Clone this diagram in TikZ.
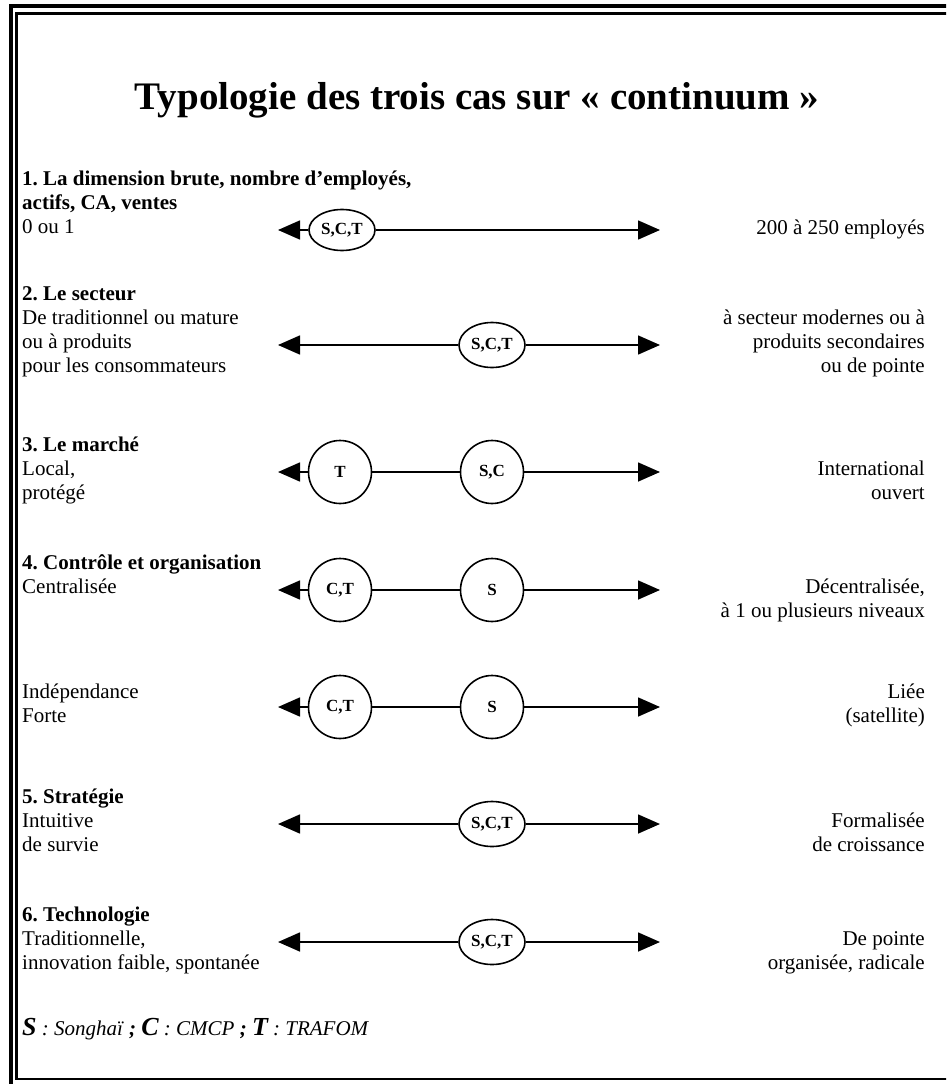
\documentclass[tikz,border=0pt]{standalone}
\usepackage{fontspec}
\setmainfont{Liberation Serif}
\usetikzlibrary{arrows.meta,shapes.geometric}
\frenchspacing

\newcommand{\lettre}[1]{{\fontsize{26}{26}\selectfont\bfseries\itshape #1}}

\tikzset{
  texte/.style={font=\fontsize{21}{24}\selectfont, inner sep=0pt,
    execute at begin node=\strut, execute at end node=\strut},
  texteG/.style={texte, align=left, anchor=west},
  texteD/.style={texte, align=right, anchor=east},
  cas/.style={draw, ellipse, line width=1.6pt, fill=white, inner sep=0pt,
    minimum width=66pt, minimum height=45pt, font=\fontsize{17}{19}\selectfont\bfseries},
  rond/.style={cas, circle, minimum size=63pt},
  fleche/.style={line width=1.6pt, -{Triangle[length=22pt,width=19pt]}},
  trait/.style={line width=1.6pt}
}

\begin{document}
\begin{tikzpicture}[x=1pt,y=-1pt]
  \useasboundingbox (0,0) rectangle (946,1084);

  % Cadre double
  \begin{scope}
    \clip (0,0) rectangle (946,1084);
    \draw[line width=3.5pt] (11,6) rectangle (960,1090);
    \draw[line width=2.5pt] (16.5,13.5) rectangle (952,1079);
  \end{scope}

  % Titre
  \node[font=\fontsize{39}{42}\selectfont\bfseries] (titre) at (477,100)
    {Typologie des trois cas sur « continuum »};

  % 1. Dimension brute
  \node[texteG] (g1) at (22,206) {\textbf{1. La dimension brute, nombre d’employés,}\\
    \textbf{actifs, CA, ventes}\\0 ou 1};
  \node[texteD] (d1) at (925,230) {200 à 250 employés};
  \node[cas, minimum height=41pt] (cas1) at (342,230) {S,C,T};
  \coordinate (a1) at (278,230);
  \coordinate (b1) at (660,230);
  \draw[fleche] (cas1) -- (a1);
  \draw[fleche] (cas1) -- (b1);

  % 2. Secteur
  \node[texteG] (g2) at (22,333) {\textbf{2. Le secteur}\\De traditionnel ou mature\\
    ou à produits\\pour les consommateurs};
  \node[texteD] (d2) at (925,345) {à secteur modernes ou à\\produits secondaires\\ou de pointe};
  \node[cas] (cas2) at (492,345) {S,C,T};
  \coordinate (a2) at (278,345);
  \coordinate (b2) at (660,345);
  \draw[fleche] (cas2) -- (a2);
  \draw[fleche] (cas2) -- (b2);

  % 3. Marché
  \node[texteG] (g3) at (22,472) {\textbf{3. Le marché}\\Local,\\protégé};
  \node[texteD] (d3) at (925,484) {International\\ouvert};
  \node[rond] (cas3a) at (340,472) {T};
  \node[rond] (cas3b) at (492,472) {S,C};
  \coordinate (a3) at (278,472);
  \coordinate (b3) at (660,472);
  \draw[fleche] (cas3a) -- (a3);
  \draw[trait] (cas3a) -- (cas3b);
  \draw[fleche] (cas3b) -- (b3);

  % 4. Contrôle et organisation
  \node[texteG] (g4) at (22,578) {\textbf{4. Contrôle et organisation}\\Centralisée};
  \node[texteD] (d4) at (925,602) {Décentralisée,\\à 1 ou plusieurs niveaux};
  \node[rond] (cas4a) at (340,590) {C,T};
  \node[rond] (cas4b) at (492,590) {S};
  \coordinate (a4) at (278,590);
  \coordinate (b4) at (660,590);
  \draw[fleche] (cas4a) -- (a4);
  \draw[trait] (cas4a) -- (cas4b);
  \draw[fleche] (cas4b) -- (b4);

  % Indépendance
  \node[texteG] (g4i) at (22,707) {Indépendance\\Forte};
  \node[texteD] (d4i) at (925,707) {Liée\\(satellite)};
  \node[rond] (cas4c) at (340,707) {C,T};
  \node[rond] (cas4d) at (492,707) {S};
  \coordinate (a4i) at (278,707);
  \coordinate (b4i) at (660,707);
  \draw[fleche] (cas4c) -- (a4i);
  \draw[trait] (cas4c) -- (cas4d);
  \draw[fleche] (cas4d) -- (b4i);

  % 5. Stratégie
  \node[texteG] (g5) at (22,824) {\textbf{5. Stratégie}\\Intuitive\\de survie};
  \node[texteD] (d5) at (925,836) {Formalisée\\de croissance};
  \node[cas] (cas5) at (492,824) {S,C,T};
  \coordinate (a5) at (278,824);
  \coordinate (b5) at (660,824);
  \draw[fleche] (cas5) -- (a5);
  \draw[fleche] (cas5) -- (b5);

  % 6. Technologie
  \node[texteG] (g6) at (22,942) {\textbf{6. Technologie}\\Traditionnelle,\\
    innovation faible, spontanée};
  \node[texteD] (d6) at (925,954) {De pointe\\organisée, radicale};
  \node[cas] (cas6) at (492,942) {S,C,T};
  \coordinate (a6) at (278,942);
  \coordinate (b6) at (660,942);
  \draw[fleche] (cas6) -- (a6);
  \draw[fleche] (cas6) -- (b6);

  % Légende
  \node[texteG] (legende) at (22,1030) {\lettre{S}\textit{ : Songhaï }\textbf{\textit{;}}
    \lettre{C}\textit{ : CMCP }\textbf{\textit{;}} \lettre{T}\textit{ : TRAFOM}};
\end{tikzpicture}
\end{document}
